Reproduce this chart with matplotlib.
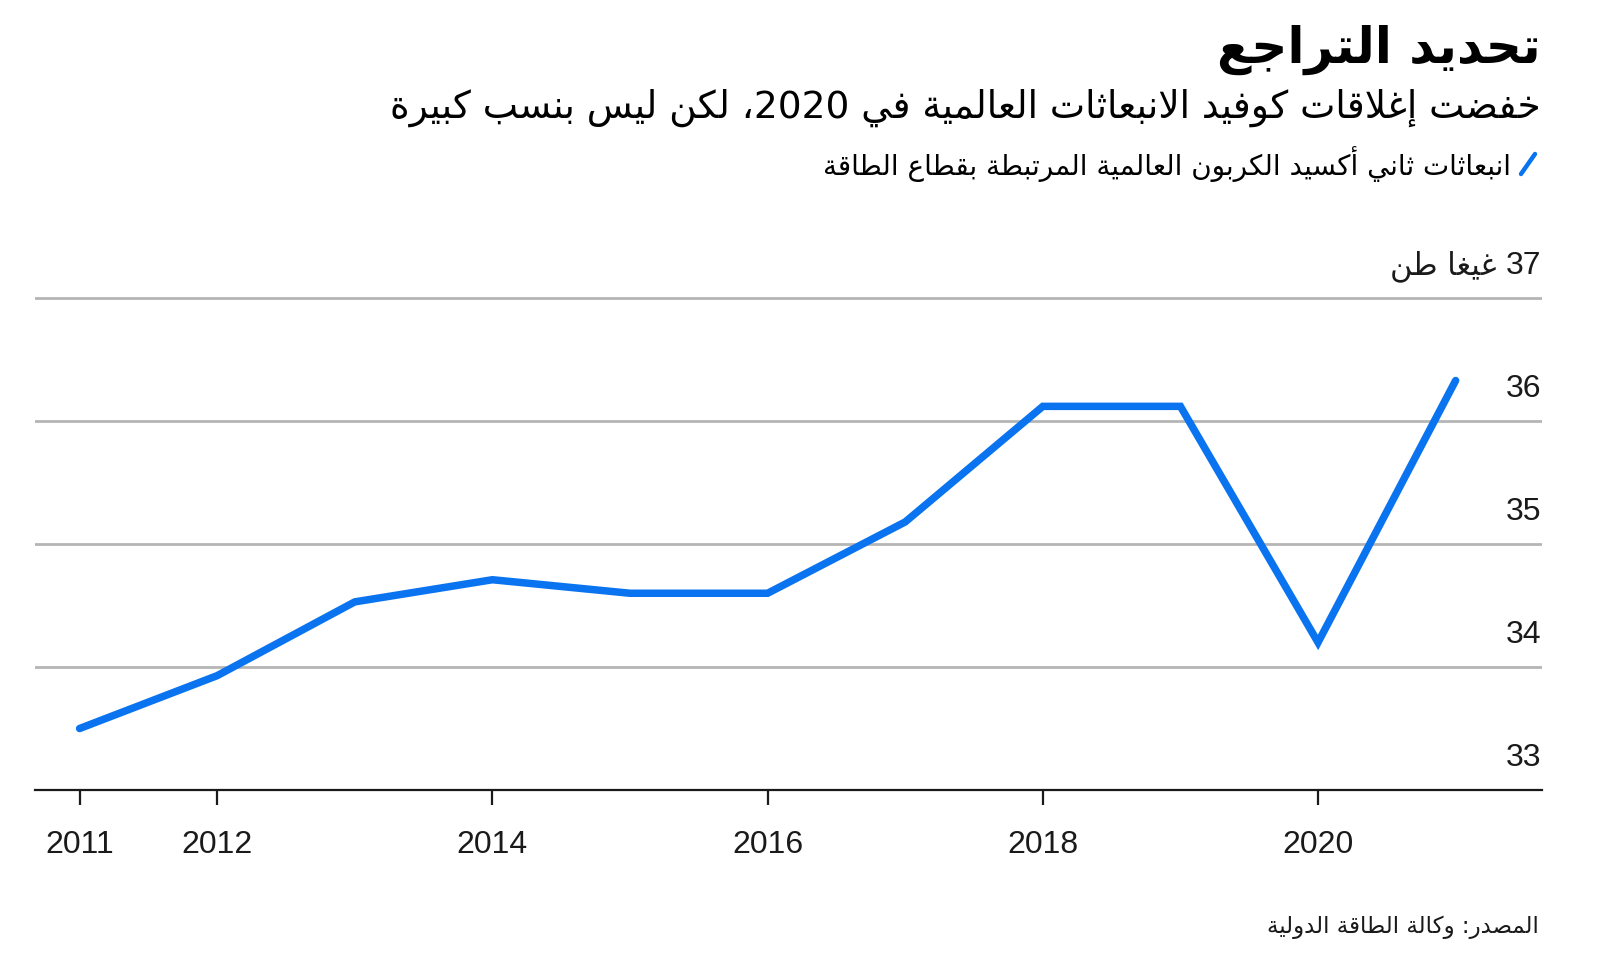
import re
import matplotlib
matplotlib.use("Agg")
import matplotlib.pyplot as plt
from matplotlib.transforms import blended_transform_factory, offset_copy
from matplotlib.lines import Line2D

# ---- data ----
years = [2011, 2012, 2013, 2014, 2015, 2016, 2017, 2018, 2019, 2020, 2021]
emissions = [33.5, 33.93, 34.53, 34.71, 34.60, 34.60, 35.18, 36.12, 36.12, 34.20, 36.33]
x_ticks = [2011, 2012, 2014, 2016, 2018, 2020]
y_ticks = [33, 34, 35, 36, 37]

title = "تحديد التراجع"
subtitle = "خفضت إغلاقات كوفيد الانبعاثات العالمية في 2020، لكن ليس بنسب كبيرة"
legend_label = "انبعاثات ثاني أكسيد الكربون العالمية المرتبطة بقطاع الطاقة"
unit_label = "غيغا طن"
source = "المصدر: وكالة الطاقة الدولية"

BLUE = "#0A74F0"
GRID = "#b5b5b5"
DARK = "#1a1a1a"

# ---- simple arabic shaping (matplotlib has no bidi/shaping) ----
# (letter, first presentation form code, dual joining?)
_letters = [
    ('ء', 0xFE80, None), ('آ', 0xFE81, False), ('أ', 0xFE83, False), ('ؤ', 0xFE85, False),
    ('إ', 0xFE87, False), ('ئ', 0xFE89, True), ('ا', 0xFE8D, False), ('ب', 0xFE8F, True),
    ('ة', 0xFE93, False), ('ت', 0xFE95, True), ('ث', 0xFE99, True), ('ج', 0xFE9D, True),
    ('ح', 0xFEA1, True), ('خ', 0xFEA5, True), ('د', 0xFEA9, False), ('ذ', 0xFEAB, False),
    ('ر', 0xFEAD, False), ('ز', 0xFEAF, False), ('س', 0xFEB1, True), ('ش', 0xFEB5, True),
    ('ص', 0xFEB9, True), ('ض', 0xFEBD, True), ('ط', 0xFEC1, True), ('ظ', 0xFEC5, True),
    ('ع', 0xFEC9, True), ('غ', 0xFECD, True), ('ف', 0xFED1, True), ('ق', 0xFED5, True),
    ('ك', 0xFED9, True), ('ل', 0xFEDD, True), ('م', 0xFEE1, True), ('ن', 0xFEE5, True),
    ('ه', 0xFEE9, True), ('و', 0xFEED, False), ('ى', 0xFEEF, False), ('ي', 0xFEF1, True),
]
FORMS = {c: (b, d) for c, b, d in _letters}
DUAL = {c for c, b, d in _letters if d}
LAM_ALEF = {'آ': 0xFEF5, 'أ': 0xFEF7, 'إ': 0xFEF9, 'ا': 0xFEFB}


def shape(text):
    out = []
    n = len(text)
    i = 0
    while i < n:
        c = text[i]
        prev_j = i > 0 and text[i - 1] in DUAL
        if c == 'ل' and i + 1 < n and text[i + 1] in LAM_ALEF:
            out.append(chr(LAM_ALEF[text[i + 1]] + (1 if prev_j else 0)))
            i += 2
            continue
        if c not in FORMS:
            out.append(c)
            i += 1
            continue
        base, dual = FORMS[c]
        if dual is None:
            out.append(chr(base))
        elif dual:
            next_j = i + 1 < n and text[i + 1] in FORMS
            if prev_j and next_j:
                out.append(chr(base + 3))
            elif prev_j:
                out.append(chr(base + 1))
            elif next_j:
                out.append(chr(base + 2))
            else:
                out.append(chr(base))
        else:
            out.append(chr(base + 1) if prev_j else chr(base))
        i += 1
    return ''.join(out)


def ar(text):
    parts = re.findall(r'\d+|\D', shape(text))
    return ''.join(reversed(parts))


AR_FONT = ['DejaVu Sans']
NUM_FONT = ['Liberation Sans', 'DejaVu Sans']

W, H = 1600, 958
fig = plt.figure(figsize=(16, 9.58), dpi=100)


def fx(px):
    return px / W


def fy(py):
    return 1 - py / H


# axes: left 35px, right 1541px, bottom 790px, top at 37 gridline (~298px)
ax = fig.add_axes([fx(35), fy(790), fx(1541.5) - fx(35), fy(292) - fy(790)])
ax.plot(years, emissions, color=BLUE, lw=5.4, solid_capstyle='round',
        solid_joinstyle='miter', zorder=3)

ax.set_xlim(2010.676, 2021.624)
ax.set_ylim(33, 37.05)
ax.set_xticks(x_ticks)
ax.set_xticklabels([str(t) for t in x_ticks], fontfamily=NUM_FONT, fontsize=23, color=DARK)
ax.tick_params(axis='x', length=11, width=1.6, color=DARK, pad=18, direction='out')
ax.set_yticks(y_ticks)
ax.tick_params(axis='y', left=False, labelleft=False)
ax.yaxis.grid(True, color=GRID, lw=2.0)
ax.set_axisbelow(True)
for s in ['top', 'right', 'left']:
    ax.spines[s].set_visible(False)
ax.spines['bottom'].set_color(DARK)
ax.spines['bottom'].set_linewidth(1.6)
ax.spines['bottom'].set_zorder(4)

# y labels sit above their gridline, right aligned
tr = offset_copy(blended_transform_factory(ax.transAxes, ax.transData), fig=fig, y=24, units='dots')
for v in y_ticks:
    ax.text(1.0, v, str(v), transform=tr, ha='right', va='baseline',
            fontfamily=NUM_FONT, fontsize=23, color=DARK)
ax.text((1497 - 35) / (1541.5 - 35), y_ticks[-1], ar(unit_label), transform=tr,
        ha='right', va='baseline', fontfamily=AR_FONT, fontsize=22, color=DARK)

# header
fig.text(fx(1541), fy(50), ar(title), ha='right', va='center',
         fontfamily=AR_FONT, fontweight='bold', fontsize=36, color='black')
fig.text(fx(1541), fy(108), ar(subtitle), ha='right', va='center',
         fontfamily=AR_FONT, fontsize=27, color='black')
fig.text(fx(1511), fy(164), ar(legend_label), ha='right', va='center',
         fontfamily=AR_FONT, fontsize=20, color='black')
fig.add_artist(Line2D([fx(1521), fx(1535)], [fy(174), fy(154)], color=BLUE,
                      lw=3.2, solid_capstyle='round', transform=fig.transFigure))

fig.text(fx(1539), fy(927), ar(source), ha='right', va='center',
         fontfamily=AR_FONT, fontsize=16.5, color=DARK)

fig.savefig("out.png", dpi=100, facecolor='white')
